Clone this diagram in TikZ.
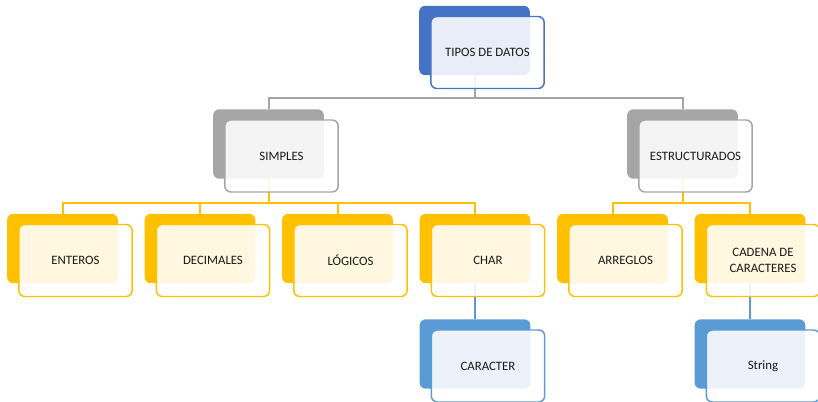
\documentclass[tikz,border=0pt]{standalone}
\usepackage{fontspec}
\setmainfont{Carlito}
\definecolor{azul}{RGB}{68,114,196}
\definecolor{azulclaro}{RGB}{91,155,213}
\definecolor{gris}{RGB}{165,165,165}
\definecolor{amarillo}{RGB}{255,192,0}
\tikzset{
  backbox/.style={fill=#1, rounded corners=4.5pt, minimum width=83pt, minimum height=52pt, inner sep=0pt},
  frontbox/.style={draw=#1, line width=1.1pt, fill=white, fill opacity=0.88, text opacity=1, rounded corners=4.5pt, minimum width=85pt, minimum height=54pt, inner sep=2pt, align=center, text=black!90, font=\fontsize{9.6}{11.5}\selectfont},
  conn/.style={draw=#1, line width=1.5pt}
}

\begin{document}
\begin{tikzpicture}[x=0.75pt,y=0.75pt,yscale=-1,xscale=1]
\useasboundingbox (0,0) rectangle (818,401);

%Back shapes
\node[backbox=azul] (tipos) at (474.5,40.5) {};
\node[backbox=gris] (simples) at (268.5,144) {};
\node[backbox=gris] (estruc) at (682.5,144) {};
\node[backbox=amarillo] (enteros) at (62.5,248.5) {};
\node[backbox=amarillo] (decimales) at (200,248.5) {};
\node[backbox=amarillo] (logicos) at (337.5,248.5) {};
\node[backbox=amarillo] (char) at (475,248.5) {};
\node[backbox=amarillo] (arreglos) at (612.5,248.5) {};
\node[backbox=amarillo] (cadena) at (750,248.5) {};
\node[backbox=azulclaro] (caracter) at (475,354) {};
\node[backbox=azulclaro] (string) at (750,354) {};

%Connectors
\draw[conn=gris] (tipos.south) -- ++(0,23) -| (simples.north);
\draw[conn=gris] (tipos.south) -- ++(0,23) -| (estruc.north);
\draw[conn=amarillo] (simples.south) -- ++(0,24) -| (enteros.north);
\draw[conn=amarillo] (simples.south) -- ++(0,24) -| (decimales.north);
\draw[conn=amarillo] (simples.south) -- ++(0,24) -| (logicos.north);
\draw[conn=amarillo] (simples.south) -- ++(0,24) -| (char.north);
\draw[conn=amarillo] (estruc.south) -- ++(0,24) -| (arreglos.north);
\draw[conn=amarillo] (estruc.south) -- ++(0,24) -| (cadena.north);
\draw[conn=azulclaro] (char.south) -- (caracter.north);
\draw[conn=azulclaro] (cadena.south) -- (string.north);

%Front shapes
\node[frontbox=azul] (tiposF) at (487.5,52.5) {TIPOS DE DATOS};
\node[frontbox=gris] (simplesF) at (281.5,156) {SIMPLES};
\node[frontbox=gris] (estrucF) at (695.5,156) {ESTRUCTURADOS};
\node[frontbox=amarillo] (enterosF) at (75.5,260.5) {ENTEROS};
\node[frontbox=amarillo] (decimalesF) at (213,260.5) {DECIMALES};
\node[frontbox=amarillo] (logicosF) at (350.5,260.5) {LÓGICOS};
\node[frontbox=amarillo] (charF) at (488,260.5) {CHAR};
\node[frontbox=amarillo] (arreglosF) at (625.5,260.5) {ARREGLOS};
\node[frontbox=amarillo] (cadenaF) at (763,260.5) {CADENA DE\\CARACTERES};
\node[frontbox=azulclaro] (caracterF) at (488,366) {CARACTER};
\node[frontbox=azulclaro] (stringF) at (763,366) {String};

\end{tikzpicture}
\end{document}
